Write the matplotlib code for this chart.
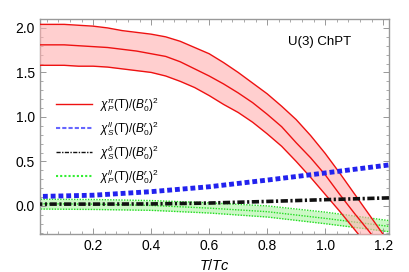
import numpy as np
import matplotlib
matplotlib.use("Agg")
import matplotlib.pyplot as plt
from matplotlib.ticker import MultipleLocator

plt.rcParams['font.family'] = ['Liberation Sans', 'DejaVu Sans']
plt.rcParams['mathtext.fontset'] = 'custom'
plt.rcParams['mathtext.rm'] = 'Liberation Sans'
plt.rcParams['mathtext.it'] = 'Liberation Sans:italic'

# Red band chi_P^pi
T_red = [0.00, 0.05, 0.10, 0.15, 0.20, 0.25, 0.30, 0.35, 0.40, 0.45, 0.50, 0.55, 0.60,
         0.65, 0.70, 0.75, 0.80, 0.85, 0.90, 0.95, 1.00, 1.05, 1.10, 1.15, 1.20, 1.25]
red_up = [2.04, 2.04, 2.04, 2.03, 2.02, 2.00, 1.97, 1.95, 1.93, 1.90, 1.85, 1.78, 1.71,
          1.61, 1.50, 1.38, 1.26, 1.12, 0.97, 0.79, 0.59, 0.37, 0.14, -0.09, -0.32, -0.55]
red_mid = [1.81, 1.81, 1.81, 1.80, 1.79, 1.78, 1.76, 1.74, 1.71, 1.68, 1.62, 1.54, 1.46,
           1.37, 1.27, 1.16, 1.03, 0.89, 0.71, 0.54, 0.35, 0.13, -0.08, -0.28, -0.49, -0.70]
red_lo = [1.58, 1.58, 1.58, 1.57, 1.57, 1.56, 1.54, 1.52, 1.50, 1.46, 1.40, 1.33, 1.24,
          1.14, 1.05, 0.94, 0.81, 0.67, 0.50, 0.32, 0.13, -0.06, -0.26, -0.46, -0.66, -0.86]

# Blue chi_S^ll
T_blue = [0.0, 0.2, 0.4, 0.6, 0.8, 1.0, 1.22]
blue = [0.105, 0.12, 0.16, 0.215, 0.29, 0.37, 0.46]

# Black chi_S^delta
T_black = [0.0, 0.2, 0.4, 0.6, 0.8, 1.0, 1.22]
black = [0.02, 0.02, 0.022, 0.032, 0.05, 0.07, 0.09]

# Green band chi_P^ll
T_green = [0.0, 0.2, 0.4, 0.6, 0.8, 1.0, 1.22]
green_up = [0.075, 0.072, 0.06, 0.035, 0.0, -0.07, -0.165]
green_mid = [0.025, 0.02, 0.005, -0.025, -0.065, -0.14, -0.23]
green_lo = [-0.035, -0.04, -0.05, -0.08, -0.125, -0.2, -0.29]

labels = [r'$\chi_P^{\pi}$(T)/($B_0^r$)$^2$',
          r'$\chi_S^{ll}$(T)/($B_0^r$)$^2$',
          r'$\chi_S^{\delta}$(T)/($B_0^r$)$^2$',
          r'$\chi_P^{ll}$(T)/($B_0^r$)$^2$']

fig = plt.figure(figsize=(4.09, 2.72), dpi=100)
ax = fig.add_axes([0.0966, 0.140, 0.8544, 0.790])

ax.fill_between(T_green, green_lo, green_up, color='#c4f7bc', alpha=0.85, lw=0, zorder=1)
for g in (green_up, green_mid, green_lo):
    ax.plot(T_green, g, color='#22dd22', lw=1.0, ls=(0, (1, 1)), zorder=2)

ax.fill_between(T_red, red_lo, red_up, color='#ffb0b0', alpha=0.6, lw=0, zorder=3)
for r in (red_up, red_mid, red_lo):
    ax.plot(T_red, r, color='#ee1111', lw=1.0, zorder=4)

ax.plot(T_blue, blue, color='#2222ee', lw=3.5, ls=(0, (1, 0.6)), zorder=5)
ax.plot(T_black, black, color='#111111', lw=2.6, ls=(0, (2, 0.7, 0.6, 0.7)), zorder=5)

# legend handles
h1, = ax.plot([], [], color='#ee1111', lw=1.0)
h2, = ax.plot([], [], color='#6666ff', lw=1.5, ls=(0, (2, 1)))
h3, = ax.plot([], [], color='#111111', lw=1.0, ls=(0, (3, 1, 1, 1)))
h4, = ax.plot([], [], color='#33ee33', lw=1.5, ls=(0, (1, 1)))
leg = ax.legend([h1, h2, h3, h4], labels, loc='upper left',
                bbox_to_anchor=(0.034, 0.667), frameon=False, fontsize=8.5,
                handlelength=3.0, handletextpad=0.7, labelspacing=0.45,
                borderaxespad=0)

ax.text(0.80, 0.893, 'U(3) ChPT', transform=ax.transAxes, fontsize=9.5,
        ha='center', va='center')

ax.set_xlim(0.015, 1.22)
ax.set_ylim(-0.315, 2.10)
ax.xaxis.set_major_locator(MultipleLocator(0.2))
ax.xaxis.set_minor_locator(MultipleLocator(0.04))
ax.yaxis.set_major_locator(MultipleLocator(0.5))
ax.yaxis.set_minor_locator(MultipleLocator(0.1))
ax.tick_params(which='both', direction='in', top=True, right=True,
               color='#888888', labelsize=10)
ax.tick_params(which='major', length=4, width=0.6)
ax.tick_params(which='minor', length=2, width=0.5)
for s in ax.spines.values():
    s.set_color('#999999')
    s.set_linewidth(1.0)
ax.set_xticks([0.2, 0.4, 0.6, 0.8, 1.0, 1.2])
ax.set_xticklabels(['0.2', '0.4', '0.6', '0.8', '1.0', '1.2'])
ax.set_yticks([0.0, 0.5, 1.0, 1.5, 2.0])
ax.set_yticklabels(['0.0', '0.5', '1.0', '1.5', '2.0'])
ax.set_xlabel(r'$T/Tc$', fontsize=10.5, labelpad=4)

fig.savefig('out.png', dpi=100)
